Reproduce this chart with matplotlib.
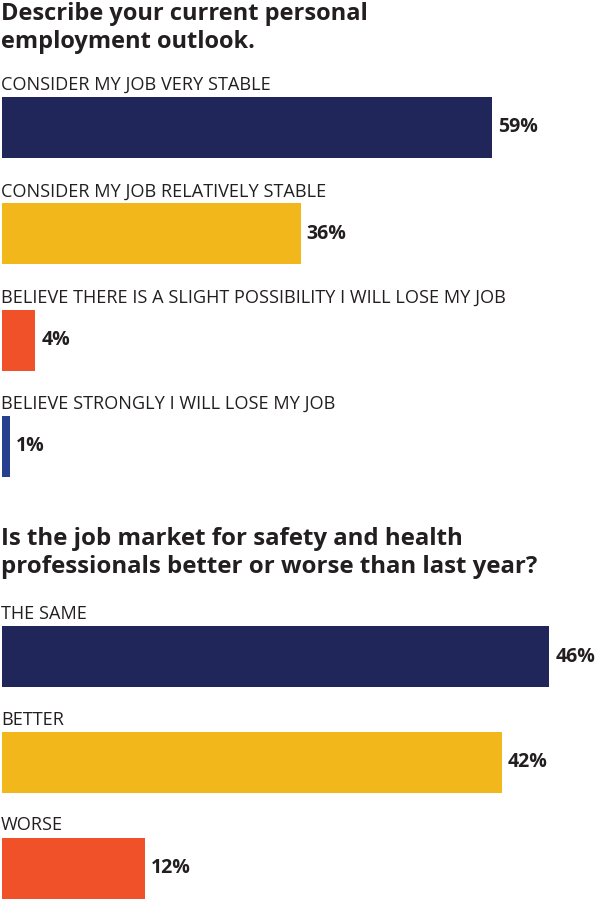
import matplotlib.pyplot as plt

plt.rcParams['font.family'] = ['Open Sans', 'DejaVu Sans']

# survey question 1
q1_title = "Describe your current personal\nemployment outlook."
q1_labels = ["CONSIDER MY JOB VERY STABLE",
             "CONSIDER MY JOB RELATIVELY STABLE",
             "BELIEVE THERE IS A SLIGHT POSSIBILITY I WILL LOSE MY JOB",
             "BELIEVE STRONGLY I WILL LOSE MY JOB"]
q1_values = [59, 36, 4, 1]
q1_colors = ['#20265a', '#f2b81b', '#f15129', '#273f8f']

# survey question 2
q2_title = "Is the job market for safety and health\nprofessionals better or worse than last year?"
q2_labels = ["THE SAME", "BETTER", "WORSE"]
q2_values = [46, 42, 12]
q2_colors = ['#20265a', '#f2b81b', '#f15129']

TXT = '#231f20'
W, H = 600, 900
fig = plt.figure(figsize=(6, 9), dpi=100)
fig.patch.set_facecolor('white')


def px_axes(top, bottom):
    # axes spanning full width between two pixel rows (from top)
    return fig.add_axes([2 / W, 1 - bottom / H, 598 / W, (bottom - top) / H])


def draw_section(ax, labels, values, colors, xmax, ymax, spacing):
    bh = 61 / spacing
    y = list(range(len(values)))
    ax.barh(y, values, height=bh, color=colors, left=0)
    ax.set_xlim(0, xmax)
    ax.set_ylim(ymax, -0.5)
    ax.axis('off')
    for i, (lab, v) in enumerate(zip(labels, values)):
        ax.text(-1 * xmax / 598, i - bh / 2 - 7 / spacing, lab, ha='left',
                va='baseline', fontsize=13.1, color=TXT)
        ax.text(v + 6 * xmax / 598, i, f"{v}%", ha='left', va='center',
                fontsize=14, fontweight='bold', color=TXT)


# top section: 8.3 px per percent, 106.3 px between bars
sp1 = 106.3
ax1 = px_axes(127.5 - 0.5 * sp1, 127.5 + 3.5 * sp1)
draw_section(ax1, q1_labels, q1_values, q1_colors, 598 / 8.3, 3.5, sp1)

# bottom section: 11.9 px per percent
sp2 = 105.75
ax2 = px_axes(656.5 - 0.5 * sp2, 900)
draw_section(ax2, q2_labels, q2_values, q2_colors, 598 / 11.9,
             (900 - 656.5) / sp2, sp2)

fig.text(1 / W, 1 - 2 / H, q1_title, ha='left', va='top', fontsize=17,
         fontweight='bold', color=TXT, linespacing=1.2)
fig.text(1 / W, 1 - 527 / H, q2_title, ha='left', va='top', fontsize=17.3,
         fontweight='bold', color=TXT, linespacing=1.2)

fig.savefig('out.png', dpi=100, facecolor='white')
